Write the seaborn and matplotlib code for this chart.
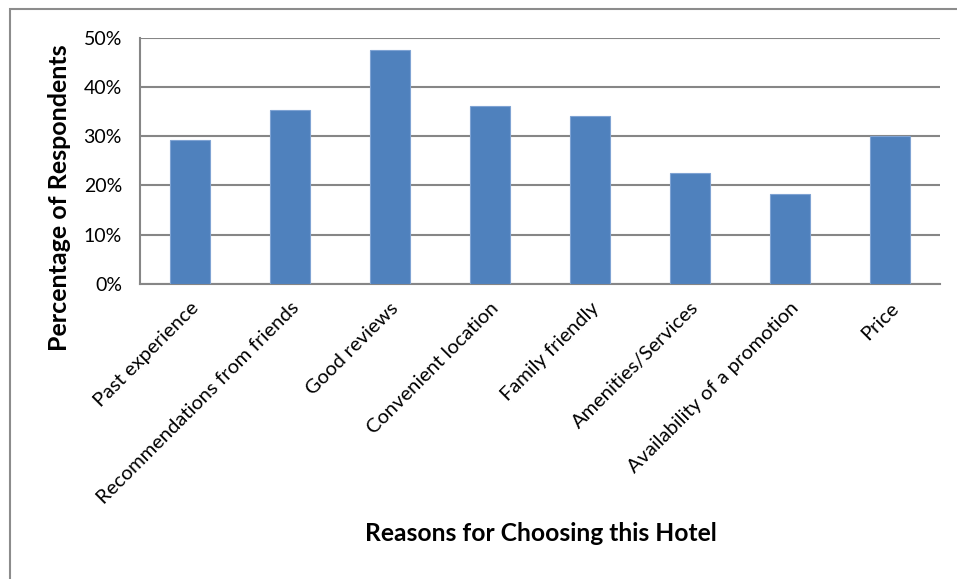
import matplotlib
matplotlib.use("Agg")
import matplotlib.pyplot as plt
import seaborn as sns
import pandas as pd
from matplotlib.ticker import PercentFormatter, MultipleLocator
from matplotlib.patches import Rectangle

reasons = [
    "Past experience",
    "Recommendations from friends",
    "Good reviews",
    "Convenient location",
    "Family friendly",
    "Amenities/Services",
    "Availability of a promotion",
    "Price",
]
shares = [0.292, 0.353, 0.475, 0.361, 0.342, 0.225, 0.182, 0.300]

df = pd.DataFrame({"reason": reasons, "share": shares})

sns.set_theme(style="white")
plt.rcParams["font.family"] = ["Lato", "DejaVu Sans"]
plt.rcParams["text.color"] = "black"
plt.rcParams["axes.labelcolor"] = "black"

fig = plt.figure(figsize=(9.57, 5.79), dpi=100)
ax = fig.add_axes([140 / 957, 1 - 284 / 579, 800 / 957, (284 - 37.7) / 579])

grid_col = "#868686"
sns.barplot(data=df, x="reason", y="share", ax=ax, color="#4F81BD",
            saturation=1, width=0.4, edgecolor="#7FA3D3", linewidth=0.8,
            zorder=3)

ax.set_ylim(0, 0.5)
ax.set_xlim(-0.5, len(reasons) - 0.5)
ax.yaxis.set_major_locator(MultipleLocator(0.1))
ax.yaxis.set_major_formatter(PercentFormatter(1.0, decimals=0))
ax.grid(axis="y", color=grid_col, linewidth=1.5, zorder=0)
ax.set_axisbelow(True)

for side in ("top", "right"):
    ax.spines[side].set_visible(False)
for side in ("left", "bottom"):
    ax.spines[side].set_color(grid_col)
    ax.spines[side].set_linewidth(1.5)

ax.tick_params(axis="both", length=0, colors="black")
ax.tick_params(axis="y", labelsize=14, pad=13)
ax.tick_params(axis="x", pad=11)
plt.setp(ax.get_xticklabels(), rotation=45, ha="right",
         rotation_mode="anchor", fontsize=14.5)

ax.set_xlabel("Reasons for Choosing this Hotel", fontsize=17.7,
              fontweight="bold", labelpad=0)
ax.xaxis.set_label_coords(0.501, -0.965)
ax.set_ylabel("Percentage of Respondents", fontsize=18, fontweight="bold")
ax.yaxis.set_label_coords(-0.086, 0.349)

# chart frame
fig.patches.append(Rectangle((10 / 957, -0.01), 1.0, 1 - 9 / 579 + 0.01,
                             transform=fig.transFigure, fill=False,
                             edgecolor="#8C8C8C", linewidth=1.5))

fig.savefig("out.png", dpi=100)
